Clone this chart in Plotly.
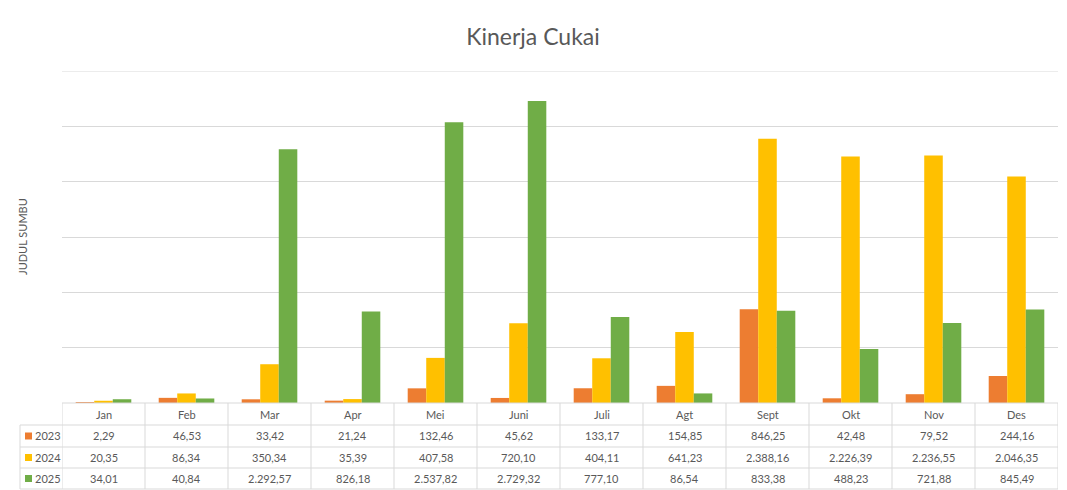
"""
Kinerja Cukai - clustered bars with an Excel-style data table below
"""
import plotly.graph_objects as go

months = ["Jan", "Feb", "Mar", "Apr", "Mei", "Juni", "Juli", "Agt", "Sept", "Okt", "Nov", "Des"]
years = ["2023", "2024", "2025"]
v2023 = [2.29, 46.53, 33.42, 21.24, 132.46, 45.62, 133.17, 154.85, 846.25, 42.48, 79.52, 244.16]
v2024 = [20.35, 86.34, 350.34, 35.39, 407.58, 720.10, 404.11, 641.23, 2388.16, 2226.39, 2236.55, 2046.35]
v2025 = [34.01, 40.84, 2292.57, 826.18, 2537.82, 2729.32, 777.10, 86.54, 833.38, 488.23, 721.88, 845.49]
colors = ["#ED7D31", "#FFC000", "#70AD47"]
y_max = 3000

FONT = "Lato"
TEXT = "#595959"
GRID = "#d9d9d9"

# the page body has an 8px margin, so work in page pixels and shift
OFF = 8
W, H = 1067 - OFF, 490 - OFF
L, R, T, B = 62 - OFF, 9, 71 - OFF, 490 - 403
PW, PH = W - L - R, H - T - B


def fmt(v):
    """Indonesian number format: 2.292,57"""
    s = f"{v:,.2f}"
    return s.replace(",", "X").replace(".", ",").replace("X", ".")


def py(px):
    """page pixel row -> paper y"""
    return (H - B - (px - OFF)) / PH


def pxx(px):
    """page pixel column -> paper x"""
    return (px - OFF - L) / PW


fig = go.Figure()
for name, vals, col in zip(years, [v2023, v2024, v2025], colors):
    fig.add_bar(x=months, y=vals, name=name, marker_color=col,
                marker_line_width=0)

row_edges = [403, 425, 447, 468, 489]
shapes = []
annotations = []
cell_font = dict(size=11, color=TEXT, family=FONT)

# top gridline (plotly drops the one sitting on the edge)
shapes.append(dict(type="line", xref="paper", yref="y", x0=0, x1=1,
                   y0=y_max, y1=y_max, line=dict(color=GRID, width=1), layer="below"))

# horizontal table lines
shapes.append(dict(type="line", xref="x", yref="paper", x0=-0.5, x1=11.5,
                   y0=py(403), y1=py(403), line=dict(color=GRID, width=1)))
for e in row_edges[1:]:
    shapes.append(dict(type="line", xref="paper", yref="paper", x0=pxx(20), x1=1,
                       y0=py(e), y1=py(e), line=dict(color=GRID, width=1)))
# vertical table lines
for i in range(13):
    shapes.append(dict(type="line", xref="x", yref="paper", x0=i - 0.5, x1=i - 0.5,
                       y0=py(403), y1=py(489), line=dict(color=GRID, width=1)))
shapes.append(dict(type="line", xref="paper", yref="paper", x0=pxx(20), x1=pxx(20),
                   y0=py(425), y1=py(489), line=dict(color=GRID, width=1)))

# header row
for m in months:
    annotations.append(dict(x=m, xref="x", y=py(414), yref="paper", text=m,
                            xanchor="center", yanchor="middle",
                            showarrow=False, font=cell_font))

# data rows
for r, (name, vals, col) in enumerate(zip(years, [v2023, v2024, v2025], colors)):
    yc = (row_edges[r + 1] + row_edges[r + 2]) / 2
    shapes.append(dict(type="rect", xref="paper", yref="paper",
                       x0=pxx(25), x1=pxx(32), y0=py(yc - 3.5), y1=py(yc + 3.5),
                       fillcolor=col, line=dict(width=0)))
    annotations.append(dict(x=pxx(33), xref="paper", y=py(yc), yref="paper", text=name,
                            xanchor="left", yanchor="middle", showarrow=False,
                            font=cell_font))
    for m, v in zip(months, vals):
        annotations.append(dict(x=m, xref="x", y=py(yc), yref="paper", text=fmt(v),
                                xanchor="center", yanchor="middle",
                                showarrow=False, font=cell_font))

# axis title
annotations.append(dict(x=pxx(22), xref="paper", y=py(237), yref="paper",
                        text="JUDUL SUMBU", textangle=-90, showarrow=False,
                        xanchor="center", yanchor="middle",
                        font=dict(size=11, color=TEXT, family=FONT)))

fig.update_layout(
    width=W, height=H,
    margin=dict(l=L, r=R, t=T, b=B),
    paper_bgcolor="white", plot_bgcolor="white",
    title=dict(text="Kinerja Cukai", x=(533 - OFF) / W, xanchor="center",
               y=1 - (37 - OFF) / H, yanchor="middle",
               font=dict(size=23, color=TEXT, family=FONT)),
    barmode="group", bargap=0.33, bargroupgap=0,
    showlegend=False,
    shapes=shapes, annotations=annotations,
    font=dict(family=FONT, color=TEXT),
)
fig.update_xaxes(showticklabels=False, showgrid=False, showline=False, zeroline=False,
                 range=[-0.5, 11.5])
fig.update_yaxes(range=[0, y_max], tickvals=[500, 1000, 1500, 2000, 2500],
                 showticklabels=False, gridcolor=GRID, gridwidth=1,
                 zeroline=False, showline=False)

fig.write_html("out.html")
